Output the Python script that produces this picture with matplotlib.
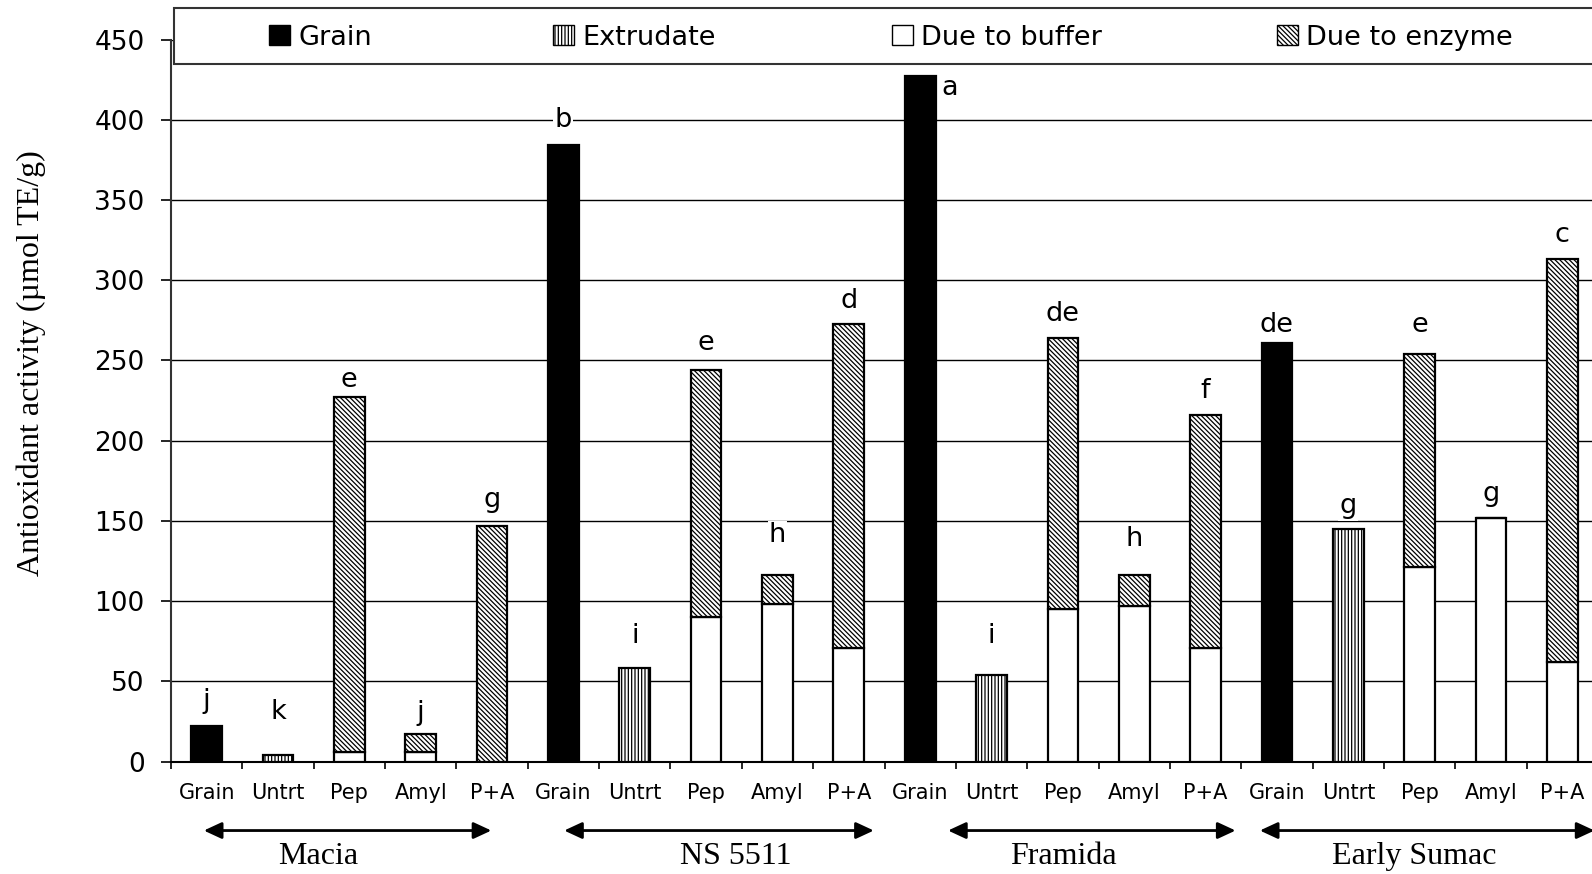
import numpy as np
import matplotlib.pyplot as plt
from matplotlib.patches import Patch, Rectangle

varieties = ["Macia", "NS 5511", "Framida", "Early Sumac"]
treatments = ["Grain", "Untrt", "Pep", "Amyl", "P+A"]

# antioxidant activity, umol TE/g
grain = [22, 384, 427, 261]
extrudate = [4, 58, 54, 145]
# Pep, Amyl, P+A for each variety
buffer = [[6, 6, 0], [90, 98, 71], [95, 97, 71], [121, 152, 62]]
enzyme = [[221, 11, 147], [154, 18, 202], [169, 19, 145], [133, 0, 251]]

letters = ["j", "k", "e", "j", "g",
           "b", "i", "e", "h", "d",
           "a", "i", "de", "h", "f",
           "de", "g", "e", "g", "c"]

plt.rcParams['font.family'] = ['DejaVu Sans']
plt.rcParams['hatch.linewidth'] = 0.9
serif = ['Liberation Serif', 'DejaVu Serif']

fig = plt.figure(figsize=(15.92, 8.74), dpi=100)
ax = fig.add_axes([0.1074, 0.1287, 0.8964, 0.826])

w = 0.43
ext_hatch = '|||||'
enz_hatch = '\\\\\\\\\\\\\\'
tops = []
for v in range(4):
    base = 5 * v
    pos = [base + 2, base + 3, base + 4]
    ax.bar(base, grain[v], w, color='black', edgecolor='black', lw=1.6, zorder=3)
    ax.bar(base + 1, extrudate[v], w, color='white', edgecolor='black',
           hatch=ext_hatch, lw=1.6, zorder=3)
    ax.bar(pos, buffer[v], w, color='white', edgecolor='black', lw=1.6, zorder=3)
    ax.bar(pos, enzyme[v], w, bottom=buffer[v], color='white', edgecolor='black',
           hatch=enz_hatch, lw=1.6, zorder=3)
    tops += [grain[v], extrudate[v]] + [b + e for b, e in zip(buffer[v], enzyme[v])]

# significance letters, gap above each bar (data units)
gap = [16, 27, 11, 13, 16, 16, 20, 17, 25, 14,
       -7, 24, 15, 23, 15, 11, 14, 18, 15, 15]
dx = [0.0] * 20
dx[10] = 0.41
for i, (t, lab) in enumerate(zip(tops, letters)):
    ax.text(i + dx[i], t + gap[i], lab, ha='center', va='center', fontsize=19.5,
            zorder=4, bbox=dict(facecolor='white', edgecolor='none', pad=1))

ax.set_xlim(-0.5, 19.5)
ax.set_ylim(0, 450)
ax.set_yticks(range(0, 451, 50))
ax.yaxis.grid(True, color='black', lw=1.0)
ax.set_xticks(np.arange(20))
ax.set_xticklabels(treatments * 4, fontsize=15)
ax.set_xticks(np.arange(-0.5, 20, 1), minor=True)
ax.tick_params(axis='x', which='major', length=0, pad=15.5)
ax.tick_params(axis='x', which='minor', length=5, width=1.2, direction='out')
ax.tick_params(axis='y', length=7, width=1.2, pad=12, labelsize=19)
for s in ['top', 'right']:
    ax.spines[s].set_visible(False)
ax.spines['left'].set_color('#333333')
ax.spines['left'].set_linewidth(1.5)
ax.spines['bottom'].set_linewidth(1.5)

fig.text(31.5 / 1592, 1 - 363 / 874, 'Antioxidant activity (µmol TE/g)',
         rotation=90, ha='center', va='center', fontsize=23, family=serif)

# variety arrows under the treatment labels
arrow_span = [(-0.04, 3.99), (5.01, 9.35), (10.39, 14.42), (14.76, 19.45)]
name_x = [1.56, 7.41, 12.01, 16.92]
trans = ax.get_xaxis_transform()
for (x0, x1), nx, name in zip(arrow_span, name_x, varieties):
    ax.annotate('', xy=(x1, -0.0956), xytext=(x0, -0.0956), xycoords=trans,
                textcoords=trans, annotation_clip=False,
                arrowprops=dict(arrowstyle='<|-|>,head_length=1.08,head_width=0.5',
                                mutation_scale=10, color='black', lw=2,
                                shrinkA=0, shrinkB=0))
    ax.text(nx, -0.131, name, transform=trans, ha='center', va='center',
            fontsize=23, family=serif)

handles = [Patch(facecolor='black', edgecolor='black', label='Grain'),
           Patch(facecolor='white', edgecolor='black', hatch=ext_hatch, label='Extrudate'),
           Patch(facecolor='white', edgecolor='black', label='Due to buffer'),
           Patch(facecolor='white', edgecolor='black', hatch=enz_hatch, label='Due to enzyme')]
box = Rectangle((0.1093, 0.9268), 0.95, 0.0641, transform=fig.transFigure,
                facecolor='white', edgecolor='#333333', lw=1.5, zorder=4)
fig.add_artist(box)
entry_x = [269, 553, 892, 1277]
for h, ex in zip(handles, entry_x):
    fig.legend(handles=[h], loc='center left', bbox_to_anchor=(ex / 1592, 0.9570),
               frameon=False, fontsize=19.5, handlelength=0.78, handleheight=0.78,
               handletextpad=0.3, borderpad=0, borderaxespad=0)

fig.savefig('out.png', dpi=100)
